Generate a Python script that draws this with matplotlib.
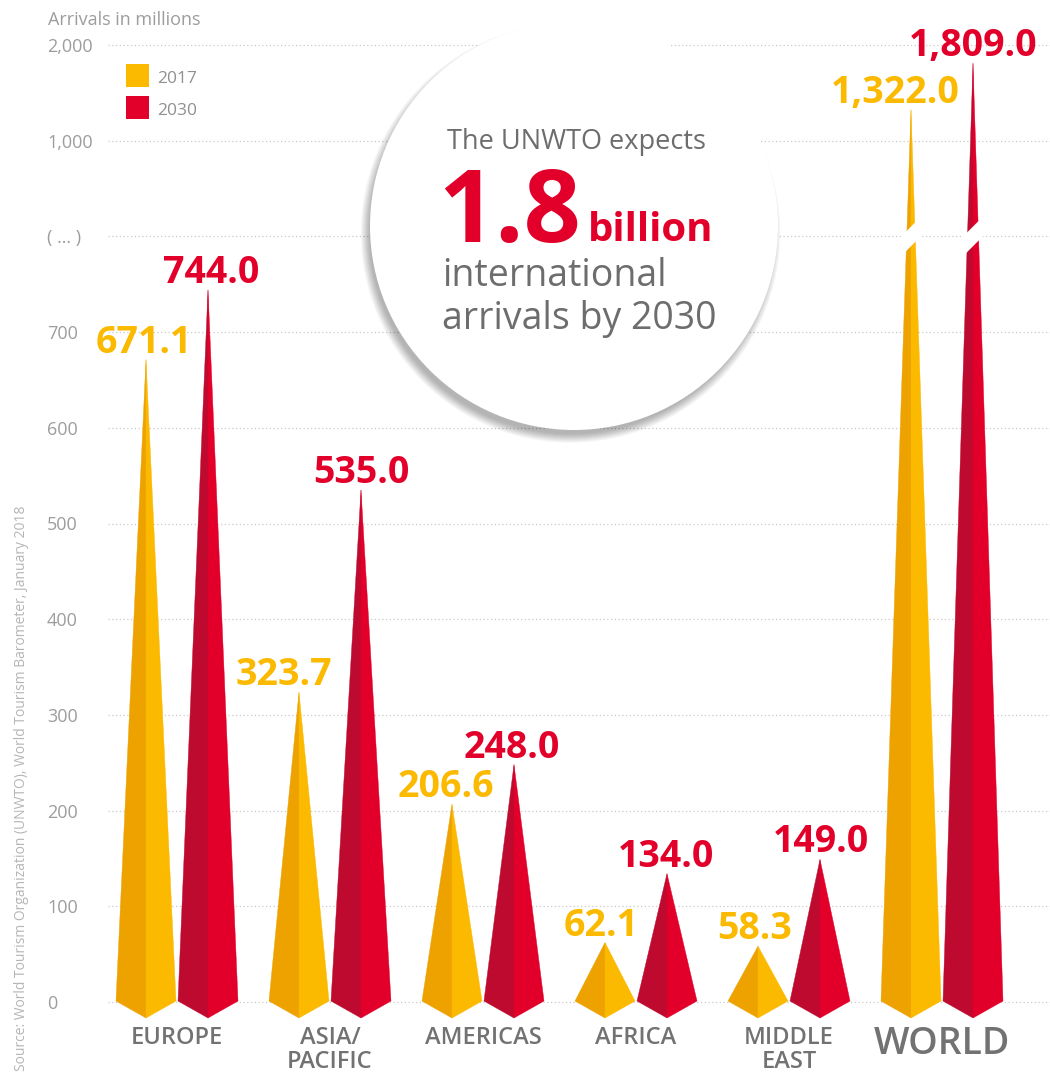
import numpy as np
import matplotlib
matplotlib.use('Agg')
import matplotlib.pyplot as plt
from matplotlib.patches import Polygon, Circle, Rectangle
from matplotlib.ticker import NullLocator

plt.rcParams['font.family'] = ['Open Sans', 'DejaVu Sans']

# ---------------- data ----------------
categories = ['EUROPE', 'ASIA/\nPACIFIC', 'AMERICAS', 'AFRICA', 'MIDDLE\nEAST', 'WORLD']
arrivals_2017 = [671.1, 323.7, 206.6, 62.1, 58.3, 1322.0]
arrivals_2030 = [744.0, 535.0, 248.0, 134.0, 149.0, 1809.0]
series_names = ['2017', '2030']
ytick_values = [0, 100, 200, 300, 400, 500, 600, 700, 800, 1000, 2000]
ytick_labels = ['0', '100', '200', '300', '400', '500', '600', '700', '( … )', '1,000', '2,000']

# ---------------- style ----------------
Y_LIGHT, Y_DARK = '#FBB900', '#EDA200'
R_LIGHT, R_DARK = '#E2002A', '#BE0A2E'
GRAY_TXT = '#6d6d6d'
AXIS_TXT = '#9d9d9d'

W, H = 1050, 1074
fig = plt.figure(figsize=(W / 100, H / 100), dpi=100)
fig.patch.set_facecolor('white')
ax = fig.add_axes([108 / W, 0, 1 - 108 / W, 1])


def fwd(y):
    y = np.asarray(y, dtype=float)
    return np.where(y <= 800, y, np.where(y <= 1000, 800 + (y - 800) / 2, 900 + (y - 1000) / 10))


def inv(p):
    p = np.asarray(p, dtype=float)
    return np.where(p <= 800, p, np.where(p <= 900, 800 + (p - 800) * 2, 1000 + (p - 900) * 10))


ax.set_yscale('function', functions=(fwd, inv))
PX = 0.957            # pixels per unit in the linear part
GROUP = 153.0         # pixels between groups
ax.set_xlim((108 - 177) / GROUP, (W - 177) / GROUP)
ax.set_ylim(-(H - 1002) / PX, float(inv(1002 / PX)))

for s in ax.spines.values():
    s.set_visible(False)
ax.set_xticks([])
ax.set_yticks(ytick_values, ytick_labels)
ax.yaxis.set_minor_locator(NullLocator())
ax.tick_params(axis='y', length=0, pad=61 * 0.72, labelsize=13, labelcolor=AXIS_TXT)
for lab in ax.get_yticklabels():
    lab.set_horizontalalignment('left')

# dotted gridlines
for t in ytick_values:
    ax.axhline(t, color='#c9c9c9', lw=0.9, ls=(0, (1, 2)), zorder=0.5)

off = 31 / GROUP
hw = 30 / GROUP
depth = 16 / PX
corner = 1.0
yel_dx = [-2, -15, -6, -4, -3, -16]   # label nudges in px
red_dx = [3, 0, -2, -1, 1, 0]

for i, (a, b) in enumerate(zip(arrivals_2017, arrivals_2030)):
    for xc, v, cl, cd, ndx in [(i - off, a, Y_LIGHT, Y_DARK, yel_dx[i]),
                               (i + off, b, R_LIGHT, R_DARK, red_dx[i])]:
        ax.add_patch(Polygon([(xc - hw, corner), (xc, v), (xc, -depth)], closed=True,
                             fc=cd, ec=cd, lw=0.3, zorder=2))
        ax.add_patch(Polygon([(xc, -depth), (xc, v), (xc + hw, corner)], closed=True,
                             fc=cl, ec=cl, lw=0.3, zorder=2))
        ax.annotate(f'{v:,.1f}', (xc, v), xytext=(ndx * 0.72, 5), textcoords='offset points',
                    ha='center', va='baseline', fontsize=27, fontweight='bold', color=cl,
                    zorder=4)
    # category label
    big = categories[i] == 'WORLD'
    ax.text(i, -(1025 - 1002) / PX if big else -(1026 - 1002) / PX, categories[i],
            ha='center', va='top', fontsize=27 if big else 17,
            fontweight='semibold', color='#727272', linespacing=0.98, zorder=4)

# axis break on WORLD bars
iw = categories.index('WORLD')
for xc in (iw - off, iw + off):
    dxd = 12 / GROUP
    ax.plot([xc - dxd, xc + dxd], [float(inv(800 - 12 / PX)), float(inv(800 + 12 / PX))],
            color='white', lw=10, solid_capstyle='butt', zorder=3)

# circle callout with soft shadow
cx, cy, r = 5.74, (H - 226) / 100, 2.04
for k in range(16):
    ax.add_patch(Circle((cx - 0.035, cy - 0.07), r + 0.06 - k * 0.006, transform=fig.dpi_scale_trans,
                        fc='black', ec='none', alpha=0.018, zorder=1.4))
ax.add_patch(Circle((cx, cy), r, transform=fig.dpi_scale_trans, fc='white', ec='none', zorder=1.5))


def ftxt(x, y, s, **kw):
    fig.text(x / W, 1 - y / H, s, va='baseline', ha='left', **kw)


ftxt(447, 149, 'The UNWTO expects', fontsize=19.5, color=GRAY_TXT)
ftxt(438, 242, '1.8', fontsize=72, fontweight='bold', color=R_LIGHT)
ftxt(588, 241, 'billion', fontsize=29, fontweight='bold', color=R_LIGHT)
ftxt(442, 286, 'international', fontsize=27, color=GRAY_TXT)
ftxt(442, 329, 'arrivals by 2030', fontsize=27, color=GRAY_TXT)

# axis title
ftxt(48, 25, 'Arrivals in millions', fontsize=13, color=AXIS_TXT)

# legend
for j, (name, col) in enumerate(zip(series_names, [Y_LIGHT, R_LIGHT])):
    top = 64 + 32 * j
    fig.add_artist(Rectangle((126 / 100, (H - top - 23) / 100), 0.23, 0.23,
                             transform=fig.dpi_scale_trans, fc=col, ec='none'))
    ftxt(157, top + 19, name, fontsize=12.5, color='#909090')

# source
fig.text(22 / W, 1 - 1071 / H,
         'Source: World Tourism Organization (UNWTO), World Tourism Barometer, January 2018',
         rotation=90, ha='center', va='bottom', fontsize=10, color='#b5b5b5')

fig.savefig('out.png', dpi=100, facecolor='white')
